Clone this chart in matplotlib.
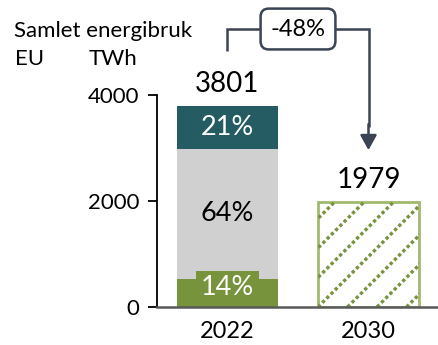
import matplotlib
matplotlib.use("Agg")
import matplotlib.pyplot as plt
from matplotlib.transforms import IdentityTransform
import numpy as np

# data
years = ["2022", "2030"]
seg_2022 = [530, 2451, 820]          # bunn (grønn), midt (grå), topp (mørk)
seg_labels = ["14%", "64%", "21%"]
total_2022 = 3801
total_2030 = 1979
change_label = "-48%"
yticks = [0, 2000, 4000]

plt.rcParams["font.family"] = ["Lato", "DejaVu Sans"]

GREEN = "#77933C"
GREY = "#D0D0D0"
TEAL = "#255C63"
LIGHT_GREEN = "#A3B96F"
DARK = "#3A4454"

fig = plt.figure(figsize=(4.39, 3.45), dpi=100)
ax = fig.add_axes([157 / 439, 38 / 345, 282 / 439, 212 / 345])

x = np.array([0.5, 1.5])
w = 0.716

# stacked bar 2022
bottom = 0
colors = [GREEN, GREY, TEAL]
for val, col in zip(seg_2022, colors):
    ax.bar(x[0], val, w, bottom=bottom, color=col, linewidth=0, zorder=2)
    bottom += val

# 2030 bar, white with dotted green hatch
bar30 = ax.bar(x[1], total_2030, w, color="white", edgecolor=LIGHT_GREEN,
               linewidth=2, zorder=2)[0]

# segment labels
ax.text(x[0], 365, seg_labels[0], ha="center", va="center", fontsize=19.5,
        color="white", zorder=4,
        bbox=dict(boxstyle="square,pad=0.17", fc=GREEN, ec="none"))
ax.text(x[0], seg_2022[0] + seg_2022[1] / 2, seg_labels[1], ha="center",
        va="center", fontsize=19.5, color="black", zorder=4)
ax.text(x[0], seg_2022[0] + seg_2022[1] + seg_2022[2] / 2, seg_labels[2],
        ha="center", va="center", fontsize=19.5, color="white", zorder=4)

# totals
for xi, tot in zip(x, [total_2022, total_2030]):
    ax.annotate(str(tot), xy=(xi, tot), xytext=(0, 10), textcoords="offset points",
                ha="center", va="baseline", fontsize=20, annotation_clip=False)

ax.set_xlim(0, 2)
ax.set_ylim(0, 4000)
ax.set_yticks(yticks)
ax.set_yticklabels([str(t) for t in yticks])
ax.set_xticks(x)
ax.set_xticklabels(years)
ax.tick_params(axis="y", length=6.5, width=1.3, pad=6, labelsize=16)
ax.tick_params(axis="x", length=0, pad=10, labelsize=17)
for s in ["top", "right"]:
    ax.spines[s].set_visible(False)
ax.spines["left"].set_linewidth(1.3)
ax.spines["bottom"].set_color("#595959")
ax.spines["bottom"].set_linewidth(1.8)
ax.spines["bottom"].set_zorder(5)

# manual dotted hatch in pixel space
fig.canvas.draw()
(x0, y0), (x1, y1) = ax.transData.transform(
    [(bar30.get_x(), 0), (bar30.get_x() + bar30.get_width(), total_2030)])
step = 29.5
for start in np.arange(x0 - 4 * step, x1, step):
    line, = ax.plot([start, start + (y1 - y0)], [y0, y1], transform=IdentityTransform(),
                    color=GREEN, linewidth=2.4, linestyle=(0, (1, 0.8)), zorder=3)
    line.set_clip_path(bar30.get_path(), bar30.get_transform())

# bracket with change label
y_top = 5245
ax.plot([x[0], x[0], 0.77], [4830, y_top, y_top], color=DARK, linewidth=1.8,
        clip_on=False, solid_capstyle="butt", solid_joinstyle="miter")
ax.plot([1.23, x[1], x[1]], [y_top, y_top, 3400], color=DARK, linewidth=1.8,
        clip_on=False, solid_capstyle="butt", solid_joinstyle="miter")
ax.annotate("", xy=(x[1], 2960), xytext=(x[1], 3450),
            arrowprops=dict(arrowstyle="-|>,head_length=0.9,head_width=0.5",
                            color=DARK, lw=1.8, shrinkA=0, shrinkB=0),
            annotation_clip=False)
ax.text(1.0, y_top, change_label, ha="center", va="center", fontsize=17,
        bbox=dict(boxstyle="round,pad=0.42,rounding_size=0.35", fc="white",
                  ec=DARK, lw=1.8), zorder=6, clip_on=False)

# header texts
fig.text(14 / 439, 1 - 37 / 345, "Samlet energibruk", fontsize=16, va="baseline")
fig.text(15 / 439, 1 - 65 / 345, "EU", fontsize=16, va="baseline")
fig.text(89 / 439, 1 - 65 / 345, "TWh", fontsize=16, va="baseline")

fig.savefig("out.png", dpi=100)
